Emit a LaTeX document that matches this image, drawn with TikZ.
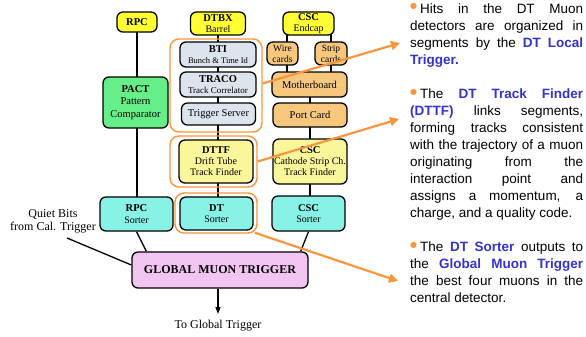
\documentclass[tikz,border=0pt]{standalone}
\usepackage{fontspec}
\setmainfont{Liberation Serif}
\newfontfamily\sansf{Liberation Sans}
\newfontfamily\djv{DejaVu Sans}
\usetikzlibrary{arrows.meta,calc,backgrounds}
\definecolor{ylw}{HTML}{FFFF33}
\definecolor{blu}{HTML}{DCE4EE}
\definecolor{grn}{HTML}{66EE88}
\definecolor{org}{HTML}{F7C77E}
\definecolor{pyl}{HTML}{FAF69A}
\definecolor{cyn}{HTML}{88F2E6}
\definecolor{pnk}{HTML}{F2C4F2}
\definecolor{orl}{HTML}{F7963C}
\definecolor{txb}{HTML}{3333CC}
\newcommand\ttl[1]{{\fontsize{10.5}{11.5}\selectfont\bfseries #1}}
\newcommand\smt[1]{{\fontsize{9}{10}\selectfont #1}}
\newcommand\blt{{\color{orl}\raisebox{4.5pt}{\djv\fontsize{8}{8}\selectfont ●}}\hspace{3pt}}
\newcommand\bb[1]{\textcolor{txb}{\textbf{#1}}}
\newcommand\parset{\tolerance=10000 \hbadness=10000 \parindent=0pt \relax}
\begin{document}
\begin{tikzpicture}[x=1pt,y=-1pt,
 box/.style={draw=black, line width=1.3pt, rounded corners=6pt, align=center, inner sep=0pt, font=\fontsize{10}{11.5}\selectfont},
 grp/.style={draw=orl, line width=1.4pt, rounded corners=9pt, inner sep=0pt},
 conn/.style={line width=1.3pt},
 oarr/.style={draw=orl, line width=2.2pt, -{Triangle[length=9pt,width=9pt]}},
 para/.style={anchor=base west, inner sep=0pt, text width=173pt, align=justify, font=\sansf\fontsize{13.5}{17}\selectfont}]

\useasboundingbox (0,0) rectangle (586,337);

% top row
\node[box, fill=ylw, minimum width=40pt, minimum height=20pt] (rpc) at (137,22) {\ttl{RPC}};
\node[box, fill=ylw, minimum width=55pt, minimum height=23pt] (dtbx) at (218,23.5) {\ttl{DTBX}\\Barrel};
\node[box, fill=ylw, minimum width=51pt, minimum height=23pt] (endcap) at (308.5,23.5) {\ttl{CSC}\\Endcap};

% DT column
\node[grp, minimum width=92pt, minimum height=93pt] (g1) at (216,85.5) {};
\node[box, fill=blu, minimum width=76pt, minimum height=25pt] (bti) at (218,54.5) {\ttl{BTI}\\{\fontsize{8.5}{9.5}\selectfont Bunch \& Time Id}};
\node[box, fill=blu, minimum width=76pt, minimum height=25pt] (traco) at (218,84.5) {\ttl{TRACO}\\\smt{Track Correlator}};
\node[box, fill=blu, minimum width=74pt, minimum height=22pt, font=\fontsize{10.5}{12}\selectfont] (ts) at (218.5,114) {Trigger Server};
\node[grp, minimum width=87pt, minimum height=51pt] (g2) at (213.5,161.5) {};
\node[box, fill=pyl, minimum width=74pt, minimum height=43pt, font=\fontsize{10}{11}\selectfont] (dttf) at (216,161.5) {\ttl{DTTF}\\Drift Tube\\Track Finder};
\node[grp, minimum width=82pt, minimum height=40pt] (g3) at (216,213) {};
\node[box, fill=cyn, minimum width=73pt, minimum height=33pt] (dts) at (216.5,213.5) {\ttl{DT}\\Sorter};

% RPC column
\node[box, fill=grn, minimum width=65pt, minimum height=51pt, font=\fontsize{10.5}{12.5}\selectfont] (pact) at (135.5,102.5) {\ttl{PACT}\\Pattern\\Comparator};
\node[box, fill=cyn, minimum width=73pt, minimum height=34pt] (rpcs) at (136.5,214) {\ttl{RPC}\\Sorter};

% CSC column
\node[box, fill=org, minimum width=31pt, minimum height=23pt, font=\fontsize{9.5}{11}\selectfont] (wire) at (282.5,53.5) {Wire\\cards};
\node[box, fill=org, minimum width=32pt, minimum height=23pt, font=\fontsize{9.5}{11}\selectfont] (strip) at (331,53.5) {Strip\\cards};
\node[box, fill=org, minimum width=75pt, minimum height=25pt, font=\fontsize{10.5}{12}\selectfont] (mb) at (309.5,84.5) {Motherboard};
\node[box, fill=org, minimum width=74pt, minimum height=24pt, font=\fontsize{10.5}{12}\selectfont] (port) at (310,115) {Port Card};
\node[box, fill=pyl, minimum width=74pt, minimum height=45pt, font=\fontsize{10}{11}\selectfont] (csctf) at (310,161.5) {\ttl{CSC}\\Cathode Strip Ch.\\Track Finder};
\node[box, fill=cyn, minimum width=73pt, minimum height=35pt] (cscs) at (308.5,213.5) {\ttl{CSC}\\Sorter};

% GMT
\node[box, fill=pnk, minimum width=176pt, minimum height=36pt, font=\fontsize{12}{14}\selectfont] (gmt) at (220,270) {\textbf{GLOBAL MUON TRIGGER}};
\node[align=center, inner sep=0pt, font=\fontsize{12}{13}\selectfont] (quiet) at (53,221.5) {Quiet Bits\\from Cal. Trigger};
\node[inner sep=0pt, font=\fontsize{12}{14}\selectfont] (togt) at (218,326) {To Global Trigger};

\coordinate (qb) at (67,238);
\coordinate (gtend) at (218,314);
\coordinate (rl) at (137,0);
\coordinate (dl) at (218,0);
\coordinate (cl) at (310,0);
\coordinate (wl) at (287,0);
\coordinate (sl) at (331,0);

\begin{scope}[on background layer]
\draw[conn] (rl |- rpc.center) -- (rl |- rpcs.center);
\draw[conn] (dl |- dtbx.center) -- (dl |- dts.center);
\draw[conn] (cl |- mb.center) -- (cl |- cscs.center);
\draw[conn] (wl |- endcap.center) -- (wl |- mb.center);
\draw[conn] (sl |- endcap.center) -- (sl |- mb.center);
\draw[conn] (rpcs.south) -- ($(gmt.north west)+(15,0)$);
\draw[conn] (cscs.south) -- ($(gmt.north east)+(-8,0)$);
\draw[conn] (qb) -- ($(gmt.west)+(0,-5)$);
\end{scope}
\draw[conn, -{Triangle[length=7pt,width=5pt]}] (gmt.south -| dl) -- (gtend);

% orange arrows
\coordinate (a1) at (400,43);
\coordinate (a2) at (399,119);
\coordinate (a3) at (398,281);
\draw[oarr] ($(g1.east)+(0,-2)$) -- (a1);
\draw[oarr] (g2.east) -- (a2);
\draw[oarr] ($(g3.south east)+(-3,-1)$) -- (a3);

% right text
\node[para] (p1) at (410,13.5) {\parset\blt Hits in the DT Muon\linebreak detectors are organized in\linebreak segments by the \bb{DT Local}\linebreak \bb{Trigger.}};
\node[para] (p2) at (410,98.5) {\parset\blt The \bb{DT Track Finder}\linebreak \bb{(DTTF)} links segments,\linebreak forming tracks consistent\linebreak with the trajectory of a muon\linebreak originating from the\linebreak interaction point and\linebreak assigns a momentum, a\linebreak charge, and a quality code.};
\node[para] (p3) at (410,251.5) {\parset\blt The \bb{DT Sorter} outputs to\linebreak the \bb{Global Muon Trigger}\linebreak the best four muons in the\linebreak central detector.};
\end{tikzpicture}
\end{document}
